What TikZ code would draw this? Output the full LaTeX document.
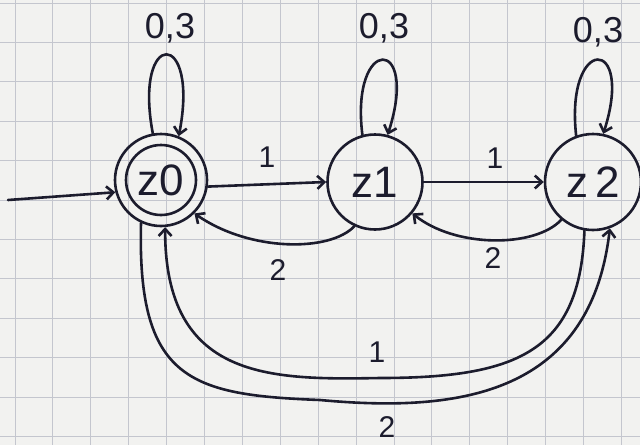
\documentclass[tikz,border=0pt]{standalone}
\usepackage{fontspec}
\setmainfont{Liberation Sans}
\usetikzlibrary{arrows.meta}
\definecolor{ink}{RGB}{28,28,45}
\definecolor{paper}{RGB}{242,242,240}
\definecolor{gridc}{RGB}{196,198,206}
\begin{document}
\begin{tikzpicture}[x=1pt,y=-1pt,
  state/.style={circle,draw=ink,line width=2.6pt,minimum size=#1,inner sep=0pt,text=ink,font=\fontsize{44}{44}\selectfont},
  edge/.style={draw=ink,line width=2.6pt,line cap=round,-{Straight Barb[length=7pt,width=13pt]}},
  lbl/.style={text=ink,font=\fontsize{30}{30}\selectfont,inner sep=0pt},
  looplbl/.style={text=ink,font=\fontsize{36}{36}\selectfont,inner sep=0pt}]
\fill[paper] (0,0) rectangle (640,445);
\useasboundingbox (0,0) rectangle (640,445);
\foreach \i in {0,...,16} \draw[gridc,line width=1pt] ({15+37.9*\i},0) -- ({15+37.9*\i},445);
\foreach \j in {0,...,11} \draw[gridc,line width=1pt] (0,{3+39.4*\j}) -- (640,{3+39.4*\j});
% states
\node[state=92pt] (z0) at (161,180) {z0};
\draw[ink,line width=2.6pt] (z0.center) circle (35pt);
\node[state=95pt] (z1) at (375,182) {z1};
\node[state=96pt] (z2) at (593,182) {z\,2};
% start
\coordinate (s) at (8,200);
\draw[edge] (s) -- (z0.195);
% self loops
\draw[edge] (z0.100) .. controls (133,28) and (200,28) .. (z0.68);
\node[looplbl] (l0) at (170,28) {0,3};
\draw[edge] (z1.105) .. controls (350,35) and (420,35) .. (z1.75);
\node[looplbl] (l1) at (384,28) {0,3};
\draw[edge] (z2.110) .. controls (565,35) and (635,35) .. (z2.78);
\node[looplbl] (l2) at (598,32) {0,3};
% straight edges
\draw[edge] (z0.-8) -- (z1.180);
\node[lbl] (a01) at (267,157) {1};
\draw[edge] (z1.0) -- (z2.180);
\node[lbl] (a12) at (495,158) {1};
% back edges
\draw[edge] (z1.-115) .. controls (330,252) and (250,252) .. (z0.-45);
\node[lbl] (a10) at (278,270) {2};
\draw[edge] (z2.-130) .. controls (535,248) and (455,248) .. (z1.-40);
\node[lbl] (a21) at (493,258) {2};
% long edges
\coordinate (m1) at (380,378);
\draw[edge] (z2.-100) .. controls (580,350) and (520,378) .. (m1) .. controls (270,380) and (165,380) .. (z0.-85);
\node[lbl] (a20) at (377,352) {1};
\coordinate (m2) at (320,400);
\draw[edge] (z0.-115) .. controls (137,380) and (190,395) .. (m2) .. controls (450,412) and (590,400) .. (z2.-70);
\node[lbl] (a02) at (387,427) {2};
\end{tikzpicture}
\end{document}
